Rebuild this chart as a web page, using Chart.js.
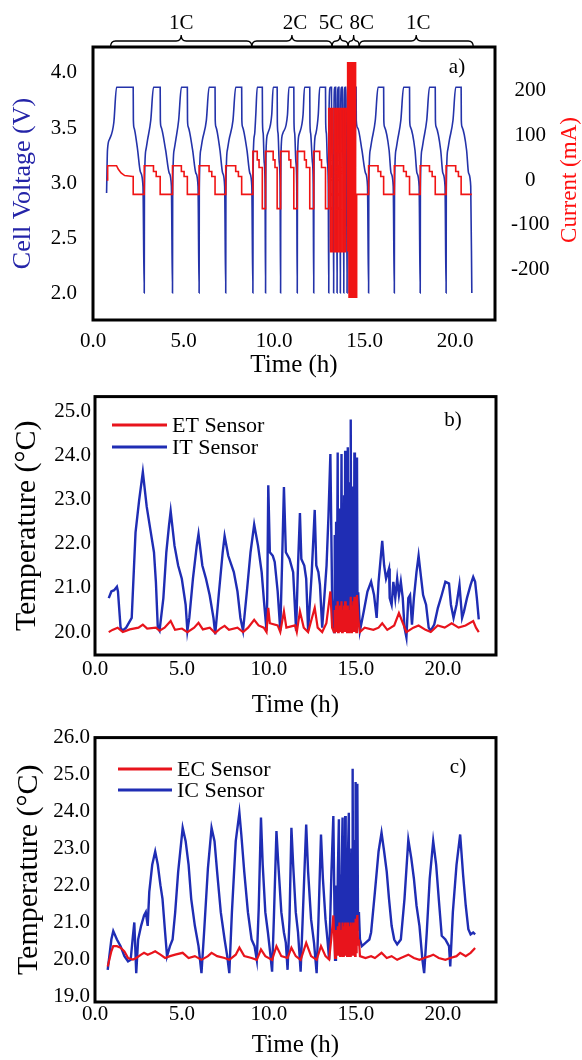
<!DOCTYPE html>
<html>
<head>
<meta charset="utf-8">
<script src="https://cdn.jsdelivr.net/npm/chart.js@4.4.1/dist/chart.umd.min.js"></script>
<style>
  body { margin: 0; background: #fff; width: 582px; height: 1060px; position: relative; overflow: hidden; }
  canvas { position: absolute; left: 0; }
  #chartA { top: 0; }
  #chartB { top: 380px; }
  #chartC { top: 720px; }
</style>
</head>
<body>
<canvas id="chartA" width="582" height="380"></canvas>
<canvas id="chartB" width="582" height="340"></canvas>
<canvas id="chartC" width="582" height="340"></canvas>
<script>
/* ================= DATA ================= */
const timeTicks = [0, 5, 10, 15, 20];
const voltTicks = [2.0, 2.5, 3.0, 3.5, 4.0];
const currentTicks = [-200, -100, 0, 100, 200];
const tempTicksB = [20, 21, 22, 23, 24, 25];
const tempTicksC = [19, 20, 21, 22, 23, 24, 25, 26];

// C-rate brackets above panel a (hours)
const rateLabels = ["1C", "2C", "5C", "8C", "1C"];
const rateStart = [0.97, 8.77, 13.20, 14.09, 14.70];
const rateEnd = [8.77, 13.20, 14.09, 14.70, 21.00];

// panel a: [time h, cell voltage V]
const cellVoltage = [
  [0.75,2.91],[0.80,3.30],[0.92,3.40],[1.15,3.55],[1.30,3.87],[2.22,3.87],[2.23,3.57],[2.27,3.50],[2.45,3.32],[2.62,3.10],[2.76,2.97],[2.83,2.0],
  [2.84,2.92],[2.92,3.30],[3.01,3.39],[3.19,3.57],[3.34,3.87],[3.71,3.87],[3.72,3.57],[3.76,3.51],[4.01,3.30],[4.21,3.09],[4.33,2.97],[4.39,2.0],
  [4.40,2.92],[4.48,3.30],[4.57,3.39],[4.73,3.57],[4.88,3.87],[5.21,3.87],[5.22,3.57],[5.26,3.51],[5.50,3.30],[5.68,3.09],[5.80,2.97],[5.86,2.0],
  [5.87,2.92],[5.95,3.30],[6.04,3.39],[6.26,3.57],[6.41,3.87],[6.74,3.87],[6.75,3.57],[6.79,3.51],[7.01,3.30],[7.16,3.09],[7.27,2.97],[7.33,2.0],
  [7.34,2.92],[7.42,3.30],[7.51,3.39],[7.73,3.57],[7.88,3.87],[8.21,3.87],[8.22,3.57],[8.26,3.51],[8.50,3.30],[8.66,3.09],[8.77,2.97],[8.83,2.0],
  [8.84,2.92],[8.87,3.35],[8.93,3.45],[8.99,3.62],[9.07,3.87],[9.35,3.87],[9.36,3.55],[9.40,3.45],[9.45,3.20],[9.50,3.00],[9.53,2.0],
  [9.54,2.92],[9.57,3.35],[9.65,3.45],[9.87,3.62],[9.95,3.87],[10.17,3.87],[10.18,3.55],[10.22,3.45],[10.28,3.20],[10.33,3.00],[10.36,2.0],
  [10.37,2.92],[10.40,3.35],[10.48,3.45],[10.74,3.62],[10.82,3.87],[11.09,3.87],[11.10,3.55],[11.14,3.45],[11.20,3.20],[11.25,3.00],[11.28,2.0],
  [11.29,2.92],[11.32,3.35],[11.40,3.45],[11.60,3.62],[11.68,3.87],[11.97,3.87],[11.98,3.55],[12.02,3.45],[12.11,3.20],[12.16,3.00],[12.19,2.0],
  [12.20,2.92],[12.23,3.35],[12.31,3.45],[12.44,3.62],[12.52,3.87],[12.84,3.87],[12.85,3.55],[12.89,3.45],[12.94,3.20],[12.99,3.00],[13.02,2.0],
  [13.03,3.0],[13.04,3.70],[13.10,3.87],[13.17,3.87],[13.18,3.40],[13.27,3.05],[13.29,2.0],
  [13.30,3.0],[13.31,3.70],[13.35,3.87],[13.40,3.87],[13.41,3.40],[13.46,3.05],[13.48,2.0],
  [13.49,3.0],[13.50,3.70],[13.54,3.87],[13.58,3.87],[13.59,3.40],[13.64,3.05],[13.66,2.0],
  [13.67,3.0],[13.68,3.70],[13.72,3.87],[13.77,3.87],[13.78,3.40],[13.83,3.05],[13.85,2.0],
  [13.86,3.0],[13.87,3.70],[13.91,3.87],[13.95,3.87],[13.96,3.40],[14.01,3.05],[14.03,2.0],
  [14.04,3.0],[14.05,3.75],[14.08,3.87],[14.11,3.87],[14.115,3.3],[14.14,3.0],[14.15,2.0],
  [14.16,3.0],[14.17,3.75],[14.20,3.87],[14.22,3.87],[14.225,3.3],[14.25,3.0],[14.26,2.0],
  [14.27,3.0],[14.28,3.75],[14.31,3.87],[14.33,3.87],[14.335,3.3],[14.36,3.0],[14.37,2.0],
  [14.38,3.0],[14.39,3.75],[14.42,3.87],[14.43,3.87],[14.435,3.3],[14.46,3.0],[14.47,2.0],
  [14.48,3.0],[14.49,3.75],[14.51,3.87],[14.53,3.87],[14.54,3.57],[14.62,3.50],[14.85,3.30],[15.05,3.09],[15.16,2.97],[15.22,2.0],
  [15.23,2.92],[15.31,3.30],[15.40,3.39],[15.59,3.57],[15.74,3.87],[16.05,3.87],[16.06,3.57],[16.10,3.51],[16.35,3.30],[16.46,3.09],[16.58,2.97],[16.64,2.0],
  [16.65,2.92],[16.73,3.30],[16.82,3.39],[17.00,3.57],[17.15,3.87],[17.48,3.87],[17.49,3.57],[17.53,3.51],[17.78,3.30],[17.89,3.09],[18.01,2.97],[18.07,2.0],
  [18.08,2.92],[18.16,3.30],[18.25,3.39],[18.43,3.57],[18.58,3.87],[18.90,3.87],[18.91,3.57],[18.95,3.51],[19.20,3.30],[19.32,3.09],[19.44,2.97],[19.50,2.0],
  [19.51,2.92],[19.59,3.30],[19.68,3.39],[19.88,3.57],[20.03,3.87],[20.33,3.87],[20.34,3.57],[20.38,3.51],[20.63,3.30],[20.74,3.09],[20.86,2.97],[20.92,2.0]
];

// panel a: [time h, current mA]
const current = [
  [0.75,0],[0.81,0],[0.81,32],[1.30,32],[1.40,24],[1.55,16],[1.75,10],[2.20,8],[2.22,8],[2.22,-32],[2.83,-32],
  [2.83,32],[3.34,32],[3.34,19],[3.49,19],[3.49,8],[3.71,8],[3.71,-32],[4.39,-32],
  [4.39,32],[4.88,32],[4.88,19],[5.03,19],[5.03,8],[5.21,8],[5.21,-32],[5.86,-32],
  [5.86,32],[6.41,32],[6.41,19],[6.56,19],[6.56,8],[6.74,8],[6.74,-32],[7.33,-32],
  [7.33,32],[7.88,32],[7.88,19],[8.03,19],[8.03,8],[8.21,8],[8.21,-32],[8.83,-32],
  [8.83,64],[9.07,64],[9.07,45],[9.17,45],[9.17,28],[9.35,28],[9.35,-64],[9.53,-64],
  [9.53,64],[9.95,64],[9.95,45],[10.05,45],[10.05,28],[10.17,28],[10.17,-64],[10.36,-64],
  [10.36,64],[10.82,64],[10.82,45],[10.92,45],[10.92,28],[11.09,28],[11.09,-64],[11.28,-64],
  [11.28,64],[11.68,64],[11.68,45],[11.78,45],[11.78,28],[11.97,28],[11.97,-64],[12.19,-64],
  [12.19,64],[12.52,64],[12.52,45],[12.62,45],[12.62,28],[12.84,28],[12.84,-64],[13.02,-64],
  [13.02,160],[13.12,160],[13.12,-160],[13.21,-160],[13.21,160],[13.31,160],[13.31,-160],[13.40,-160],
  [13.40,160],[13.49,160],[13.49,-160],[13.58,-160],[13.58,160],[13.67,160],[13.67,-160],[13.76,-160],
  [13.76,160],[13.85,160],[13.85,-160],[13.94,-160],[13.94,160],[14.03,160],[14.03,-160],[14.08,-160],
  [14.08,262],[14.14,262],[14.14,-262],[14.20,-262],[14.20,262],[14.26,262],[14.26,-262],[14.32,-262],
  [14.32,262],[14.38,262],[14.38,-262],[14.44,-262],[14.44,262],[14.50,262],[14.50,-262],[14.56,-262],
  [14.56,-32],[15.22,-32],
  [15.22,32],[15.74,32],[15.74,19],[15.89,19],[15.89,8],[16.05,8],[16.05,-32],[16.64,-32],
  [16.64,32],[17.15,32],[17.15,19],[17.30,19],[17.30,8],[17.48,8],[17.48,-32],[18.07,-32],
  [18.07,32],[18.58,32],[18.58,19],[18.73,19],[18.73,8],[18.90,8],[18.90,-32],[19.50,-32],
  [19.50,32],[20.03,32],[20.03,19],[20.18,19],[20.18,8],[20.33,8],[20.33,-32],[20.92,-32]
];

// panel b: [time h, temperature °C]
const etSensor = [
  [0.79,20.00],[1.00,20.05],[1.30,20.10],[1.60,20.00],[2.00,20.06],[2.50,20.10],[2.75,20.17],[3.00,20.08],[3.50,20.10],[3.71,20.03],
  [4.00,20.10],[4.35,20.25],[4.60,20.05],[5.00,20.08],[5.31,20.00],[5.70,20.10],[5.95,20.21],[6.20,20.06],[6.60,20.10],[6.91,19.98],
  [7.20,20.08],[7.45,20.14],[7.70,20.05],[8.19,20.10],[8.51,20.00],[8.80,20.10],[9.15,20.28],[9.40,20.15],[9.70,20.10],[9.86,20.00],
  [9.96,20.55],[10.05,20.20],[10.50,20.15],[10.65,20.00],[10.86,20.47],[11.00,20.10],[11.50,20.15],[11.60,20.00],[11.78,20.47],[12.00,20.10],
  [12.25,20.00],[12.63,20.55],[12.80,20.10],[13.06,20.00],[13.30,20.20],[13.53,20.92],[13.63,20.10],[13.74,20.00],
  [13.78,20.5],[13.82,20.0],[13.86,20.6],[13.90,20.0],[13.95,20.7],[13.97,20.0],[14.01,20.5],[14.05,20.0],[14.09,20.6],[14.13,20.0],
  [14.17,20.7],[14.20,20.0],[14.24,20.5],[14.28,20.0],[14.32,20.6],[14.35,20.0],[14.38,20.7],[14.41,20.0],[14.45,20.5],[14.49,20.0],
  [14.53,20.6],[14.56,20.0],[14.60,20.5],[14.64,20.0],[14.70,20.8],[14.73,20.0],[14.77,20.6],[14.81,20.0],[14.85,20.7],[14.88,20.0],
  [14.91,20.8],[14.94,20.0],[14.98,20.7],[15.02,20.0],[15.06,20.84],[15.13,20.30],
  [15.23,20.00],[15.50,20.10],[16.00,20.05],[16.30,20.10],[16.51,20.20],[16.80,20.05],[17.20,20.15],[17.47,20.43],[17.70,20.20],[17.90,20.00],
  [18.30,20.10],[18.60,20.15],[19.00,20.05],[19.30,20.00],[19.70,20.15],[20.10,20.10],[20.50,20.20],[20.90,20.10],[21.30,20.15],[21.74,20.25],
  [21.90,20.10],[22.06,20.00]
];
const itSensor = [
  [0.79,20.77],[0.94,20.92],[1.10,20.95],[1.26,21.03],[1.32,20.92],[1.47,20.10],[1.58,20.03],[1.79,20.10],[2.11,20.32],[2.33,22.26],
  [2.54,23.00],[2.75,23.63],[2.97,22.85],[3.18,22.33],[3.39,21.81],[3.50,21.14],[3.61,20.10],[3.71,20.03],[3.93,20.77],[4.10,21.81],
  [4.25,22.40],[4.35,22.74],[4.57,21.96],[4.78,21.51],[4.99,21.21],[5.21,20.62],[5.31,20.03],[5.42,20.32],[5.63,21.21],[5.85,21.96],
  [5.95,22.22],[6.17,21.51],[6.38,21.21],[6.59,20.84],[6.81,20.32],[6.91,19.95],[7.13,20.92],[7.34,21.81],[7.45,22.18],[7.66,21.73],
  [7.98,21.36],[8.19,20.92],[8.36,20.32],[8.51,20.03],[8.73,20.92],[8.94,21.81],[9.15,22.44],[9.37,21.96],[9.58,21.36],[9.73,20.62],
  [9.86,20.03],[9.90,20.77],[9.96,23.33],[10.05,21.81],[10.22,21.73],[10.33,21.59],[10.50,20.92],[10.65,20.03],[10.75,21.51],[10.86,23.29],
  [10.97,21.81],[11.18,21.66],[11.39,21.36],[11.56,20.03],[11.67,21.51],[11.78,22.70],[11.86,21.66],[12.03,21.51],[12.14,21.21],[12.25,20.03],
  [12.46,21.36],[12.63,22.77],[12.72,21.51],[12.84,21.36],[12.93,21.07],[13.06,20.10],[13.31,21.51],[13.42,22.63],[13.53,24.04],[13.63,20.77],
  [13.74,20.00],[13.78,22.2],[13.82,20.1],[13.86,22.5],[13.90,20.0],[13.95,24.07],[13.97,20.2],[14.01,22.6],[14.05,20.1],[14.09,22.8],
  [14.13,20.1],[14.17,24.04],[14.20,20.2],[14.24,22.9],[14.28,20.1],[14.32,23.1],[14.35,20.2],[14.38,24.11],[14.41,20.1],[14.45,23.2],
  [14.49,20.2],[14.53,24.19],[14.56,20.1],[14.60,23.4],[14.64,20.2],[14.67,23.0],[14.70,24.82],[14.73,20.1],[14.77,23.3],[14.81,20.2],
  [14.85,23.1],[14.88,20.3],[14.91,24.07],[14.94,20.2],[14.98,22.8],[15.02,20.3],[15.06,23.96],[15.09,20.4],[15.13,20.90],
  [15.23,20.03],[15.45,20.47],[15.66,20.92],[15.87,21.14],[16.04,20.84],[16.19,20.32],[16.30,21.14],[16.51,22.07],[16.62,21.51],[16.73,21.21],
  [16.90,21.44],[16.94,20.77],[17.05,20.62],[17.15,21.14],[17.26,20.77],[17.37,21.21],[17.47,20.84],[17.58,21.14],[17.69,20.77],[17.79,20.10],
  [17.90,19.88],[18.01,20.77],[18.11,20.84],[18.22,20.17],[18.33,20.77],[18.48,21.36],[18.60,21.73],[18.75,21.21],[18.86,20.84],[19.03,20.62],
  [19.18,20.10],[19.29,20.03],[19.50,20.17],[19.71,20.55],[19.93,20.84],[20.14,21.14],[20.35,21.10],[20.46,20.62],[20.61,20.32],[20.78,20.62],
  [20.95,21.07],[21.10,20.32],[21.21,20.47],[21.38,20.77],[21.59,21.07],[21.74,21.25],[21.85,21.14],[21.95,20.77],[22.06,20.29]
];

// panel c: [time h, temperature °C]
const ecSensor = [
  [0.73,19.81],[0.94,20.22],[1.05,20.36],[1.26,20.36],[1.47,20.32],[1.69,20.22],[1.90,20.04],[2.18,20.00],[2.37,20.04],[2.65,20.13],
  [2.82,20.18],[3.03,20.13],[3.29,20.18],[3.46,20.22],[3.76,20.13],[4.03,20.04],[4.31,20.09],[4.61,20.13],[5.04,20.18],[5.38,20.04],
  [5.74,20.09],[6.12,19.99],[6.49,20.09],[6.70,20.18],[7.02,20.09],[7.45,20.04],[7.72,19.99],[8.09,20.13],[8.30,20.32],[8.58,20.09],
  [9.00,20.04],[9.30,19.99],[9.54,20.27],[9.79,20.09],[10.18,19.99],[10.43,20.36],[10.71,20.09],[11.07,20.04],[11.29,20.32],[11.54,20.09],
  [11.82,19.99],[12.14,20.45],[12.42,20.09],[12.74,19.99],[12.99,20.36],[13.25,20.09],[13.46,20.00],[13.59,20.60],[13.70,21.19],[13.80,20.04],
  [13.85,20.8],[13.91,20.1],[13.96,20.9],[14.02,20.1],[14.05,21.0],[14.09,20.1],[14.13,20.8],[14.18,20.1],[14.23,21.0],[14.26,20.1],
  [14.30,20.9],[14.34,20.1],[14.38,21.0],[14.41,20.1],[14.45,20.9],[14.49,20.1],[14.54,21.0],[14.59,20.1],[14.62,20.9],[14.66,20.1],
  [14.70,21.0],[14.74,20.1],[14.78,20.9],[14.81,20.1],[14.84,21.0],[14.88,20.1],[14.92,20.9],[14.95,20.1],[14.98,21.1],[15.01,20.2],
  [15.04,21.0],[15.08,21.2],[15.12,20.4],[15.17,20.54],
  [15.23,20.09],[15.55,20.04],[15.87,20.09],[16.09,20.04],[16.47,20.18],[16.77,20.04],[17.05,20.09],[17.37,19.99],[17.58,20.04],[18.01,20.13],
  [18.33,20.04],[18.65,19.99],[18.92,20.04],[19.24,20.09],[19.44,20.13],[19.76,20.04],[20.14,19.99],[20.42,20.04],[20.78,20.09],[20.99,20.18],
  [21.31,20.09],[21.59,20.18],[21.85,20.31]
];
const icSensor = [
  [0.73,19.72],[0.94,20.54],[1.05,20.77],[1.26,20.54],[1.47,20.36],[1.69,20.09],[1.90,19.95],[2.05,19.99],[2.18,20.64],[2.26,21.00],
  [2.37,19.63],[2.48,20.54],[2.65,20.91],[2.82,21.19],[2.92,21.28],[3.03,20.91],[3.12,21.83],[3.29,22.56],[3.46,22.92],[3.61,22.56],
  [3.76,22.01],[3.88,21.64],[4.03,20.73],[4.14,20.09],[4.31,20.36],[4.46,20.54],[4.61,21.28],[4.78,22.37],[5.04,23.56],[5.21,23.20],
  [5.38,22.56],[5.53,21.64],[5.74,20.91],[5.95,20.36],[6.12,19.63],[6.27,20.73],[6.49,22.46],[6.70,23.56],[6.87,23.20],[7.02,22.37],
  [7.23,21.28],[7.45,20.54],[7.60,20.09],[7.72,19.63],[7.87,21.28],[8.09,23.20],[8.30,23.97],[8.41,23.38],[8.58,22.37],[8.79,21.28],
  [9.00,20.54],[9.17,20.36],[9.30,19.99],[9.41,21.37],[9.54,23.84],[9.64,22.56],[9.79,21.28],[9.94,20.73],[10.07,20.18],[10.18,19.67],
  [10.28,21.09],[10.43,23.47],[10.54,22.56],[10.71,21.28],[10.86,20.73],[10.97,20.45],[11.07,19.72],[11.18,21.09],[11.29,23.56],[11.39,22.56],
  [11.54,21.28],[11.67,20.73],[11.82,19.67],[11.93,21.00],[12.14,23.65],[12.25,22.37],[12.42,21.09],[12.59,20.45],[12.74,19.63],[12.84,21.00],
  [12.99,23.38],[13.10,22.19],[13.25,21.09],[13.36,20.54],[13.46,19.99],[13.59,22.37],[13.70,23.88],[13.80,19.99],
  [13.85,22.0],[13.91,20.3],[13.96,22.4],[14.02,23.79],[14.05,20.2],[14.09,22.3],[14.13,20.3],[14.18,22.5],[14.23,23.84],[14.26,20.3],
  [14.30,22.4],[14.34,20.4],[14.38,23.88],[14.41,20.3],[14.45,22.6],[14.49,20.4],[14.54,22.8],[14.59,23.97],[14.62,20.3],[14.66,22.7],
  [14.70,20.4],[14.74,23.0],[14.78,20.5],[14.81,25.16],[14.84,20.4],[14.88,22.9],[14.92,20.5],[14.95,23.2],[14.98,24.80],[15.01,20.6],
  [15.04,23.0],[15.08,24.75],[15.12,20.8],[15.17,21.28],
  [15.23,20.54],[15.34,20.36],[15.55,20.45],[15.77,20.54],[15.87,20.73],[16.09,21.83],[16.30,22.92],[16.47,23.43],[16.62,22.92],[16.77,22.37],
  [16.90,21.64],[17.05,20.91],[17.20,20.54],[17.37,20.41],[17.58,20.54],[17.79,21.64],[18.01,23.24],[18.18,22.74],[18.33,22.19],[18.48,21.46],
  [18.65,20.91],[18.82,19.99],[18.92,19.63],[19.07,20.73],[19.24,22.19],[19.44,23.20],[19.61,22.56],[19.76,21.64],[19.93,20.64],[20.14,20.54],
  [20.35,20.36],[20.42,19.81],[20.57,21.28],[20.78,22.56],[20.99,23.38],[21.16,22.28],[21.31,21.46],[21.46,20.82],[21.59,20.68],[21.74,20.73],
  [21.85,20.68]
];

/* ================= HELPERS ================= */
const SERIF = "'Liberation Serif', 'Times New Roman', serif";
const RED = "#e8141c";
const BLUE = "#1f2db4";
Chart.defaults.font.family = SERIF;
Chart.defaults.color = "#000";

const toXY = arr => arr.map(([x, y]) => ({ x, y }));
const fixedTicks = vals => s => { s.ticks = vals.map(v => ({ value: v })); };

// frame, panel tag and in-plot legend
function decor(o) {
  return {
    id: "decor",
    afterDraw(chart) {
      const { ctx, chartArea: a } = chart;
      ctx.save();
      ctx.strokeStyle = "#000";
      ctx.lineWidth = 3;
      ctx.strokeRect(a.left, a.top, a.right - a.left, a.bottom - a.top);

      ctx.fillStyle = "#000";
      ctx.font = `21px ${SERIF}`;
      ctx.textAlign = "center";
      ctx.textBaseline = "middle";
      ctx.fillText(o.tag, o.tagX, o.tagY);

      if (o.legend) {
        ctx.font = `22px ${SERIF}`;
        ctx.textAlign = "left";
        chart.data.datasets.forEach((ds, i) => {
          const y = o.legend.y[i];
          ctx.strokeStyle = ds.borderColor;
          ctx.lineWidth = 3;
          ctx.beginPath();
          ctx.moveTo(o.legend.x1, y);
          ctx.lineTo(o.legend.x2, y);
          ctx.stroke();
          ctx.fillStyle = "#000";
          ctx.fillText(ds.label, o.legend.x2 + 5, y + 1);
        });
      }
      ctx.restore();
    }
  };
}

// C-rate brackets + right axis title of panel a
const rateBraces = {
  id: "rateBraces",
  afterDraw(chart) {
    const { ctx } = chart;
    const xs = chart.scales.x;
    const shift = [0, 3, -9, 8, 2];
    ctx.save();
    ctx.strokeStyle = "#000";
    ctx.lineWidth = 1.3;
    ctx.fillStyle = "#000";
    ctx.font = `21px ${SERIF}`;
    ctx.textAlign = "center";
    ctx.textBaseline = "middle";
    rateLabels.forEach((lab, i) => {
      const x1 = xs.getPixelForValue(rateStart[i]);
      const x2 = xs.getPixelForValue(rateEnd[i]);
      const xc = (x1 + x2) / 2, r = Math.min(5, (x2 - x1) / 4);
      const yEnd = 47, yMid = 41, yTip = 35;
      ctx.beginPath();
      ctx.moveTo(x1, yEnd);
      ctx.quadraticCurveTo(x1, yMid, x1 + r, yMid);
      ctx.lineTo(xc - r, yMid);
      ctx.quadraticCurveTo(xc, yMid, xc, yTip);
      ctx.quadraticCurveTo(xc, yMid, xc + r, yMid);
      ctx.lineTo(x2 - r, yMid);
      ctx.quadraticCurveTo(x2, yMid, x2, yEnd);
      ctx.stroke();
      ctx.fillText(lab, xc + shift[i], 23);
    });

    ctx.translate(570, 180);
    ctx.rotate(-Math.PI / 2);
    ctx.fillStyle = "#ff1010";
    ctx.font = `23px ${SERIF}`;
    ctx.fillText("Current (mA)", 0, 0);
    ctx.restore();
  }
};

function xAxis(max, height, pad) {
  return {
    type: "linear", min: 0, max,
    afterBuildTicks: fixedTicks(timeTicks),
    afterFit: s => { s.height = height; },
    grid: { display: false, drawTicks: false },
    border: { display: false },
    ticks: { padding: pad, autoSkip: false, maxRotation: 0, font: { size: 21 }, callback: v => v.toFixed(1) },
    title: { display: true, text: "Time (h)", font: { size: 25 }, padding: 0 }
  };
}

/* ================= PANEL A ================= */
new Chart(document.getElementById("chartA"), {
  type: "line",
  data: {
    datasets: [
      { label: "Current", data: toXY(current), yAxisID: "yI", borderColor: "#f01414", borderWidth: 1.6 },
      { label: "Cell Voltage", data: toXY(cellVoltage), yAxisID: "yV", borderColor: "#2433aa", borderWidth: 1.6,
        cubicInterpolationMode: "monotone" }
    ]
  },
  options: {
    responsive: false, animation: false, events: [],
    layout: { padding: { top: 47, left: 0, right: 0, bottom: 0 } },
    elements: { point: { radius: 0 }, line: { tension: 0 } },
    plugins: { legend: { display: false }, tooltip: { enabled: false } },
    scales: {
      x: xAxis(22.2, 60, 9),
      yV: {
        position: "left", min: 1.755, max: 4.236,
        afterBuildTicks: fixedTicks(voltTicks),
        afterFit: s => { s.width = 93; },
        grid: { display: false, drawTicks: false },
        border: { display: false },
        ticks: { padding: 16, font: { size: 21 }, callback: v => v.toFixed(1) },
        title: { display: true, text: "Cell Voltage (V)", color: "#2424a8", font: { size: 26 }, padding: { top: 8, bottom: 0 } }
      },
      yI: {
        position: "right", min: -313, max: 297.5,
        afterBuildTicks: fixedTicks(currentTicks),
        afterFit: s => { s.width = 87; },
        grid: { display: false, drawTicks: false },
        border: { display: false },
        ticks: { padding: 16, crossAlign: "center", font: { size: 21 }, callback: v => String(v) }
      }
    }
  },
  plugins: [decor({ tag: "a)", tagX: 457, tagY: 67 }), rateBraces]
});

/* ================= PANELS B, C ================= */
function tempChart(id, outer, inner, c) {
  new Chart(document.getElementById(id), {
    type: "line",
    data: {
      datasets: [
        { label: outer.label, data: toXY(outer.data), borderColor: RED, borderWidth: 2.2 },
        { label: inner.label, data: toXY(inner.data), borderColor: BLUE, borderWidth: 2.4 }
      ]
    },
    options: {
      responsive: false, animation: false, events: [],
      layout: { padding: { top: c.top, left: 0, right: 86, bottom: 0 } },
      elements: { point: { radius: 0 }, line: { tension: 0 } },
      plugins: { legend: { display: false }, tooltip: { enabled: false } },
      scales: {
        x: xAxis(23.05, c.xHeight, c.xPad),
        y: {
          min: c.yMin, max: c.yMax,
          afterBuildTicks: fixedTicks(c.ticks),
          afterFit: s => { s.width = 95; },
          grid: { display: false, drawTicks: false },
          border: { display: false },
          ticks: { padding: c.yPad, font: { size: 21 }, callback: v => v.toFixed(1) },
          title: { display: true, text: "Temperature (°C)", font: { size: 30 }, padding: { top: c.titlePad, bottom: 0 } }
        }
      }
    },
    plugins: [decor({ tag: c.tag, tagX: c.tagX, tagY: c.tagY, legend: c.legend })]
  });
}

tempChart("chartB",
  { label: "ET Sensor", data: etSensor },
  { label: "IT Sensor", data: itSensor },
  { top: 10, xHeight: 65, xPad: 2, yMin: 19.48, yMax: 25.34, ticks: tempTicksB, yPad: 4, titlePad: 9,
    tag: "b)", tagX: 453, tagY: 40, legend: { x1: 112, x2: 167, y: [45, 67] } });

tempChart("chartC",
  { label: "EC Sensor", data: ecSensor },
  { label: "IC Sensor", data: icSensor },
  { top: 17, xHeight: 58, xPad: 0, yMin: 18.85, yMax: 26, ticks: tempTicksC, yPad: 5, titlePad: 11,
    tag: "c)", tagX: 458, tagY: 47, legend: { x1: 118, x2: 172, y: [49, 70] } });
</script>
</body>
</html>
